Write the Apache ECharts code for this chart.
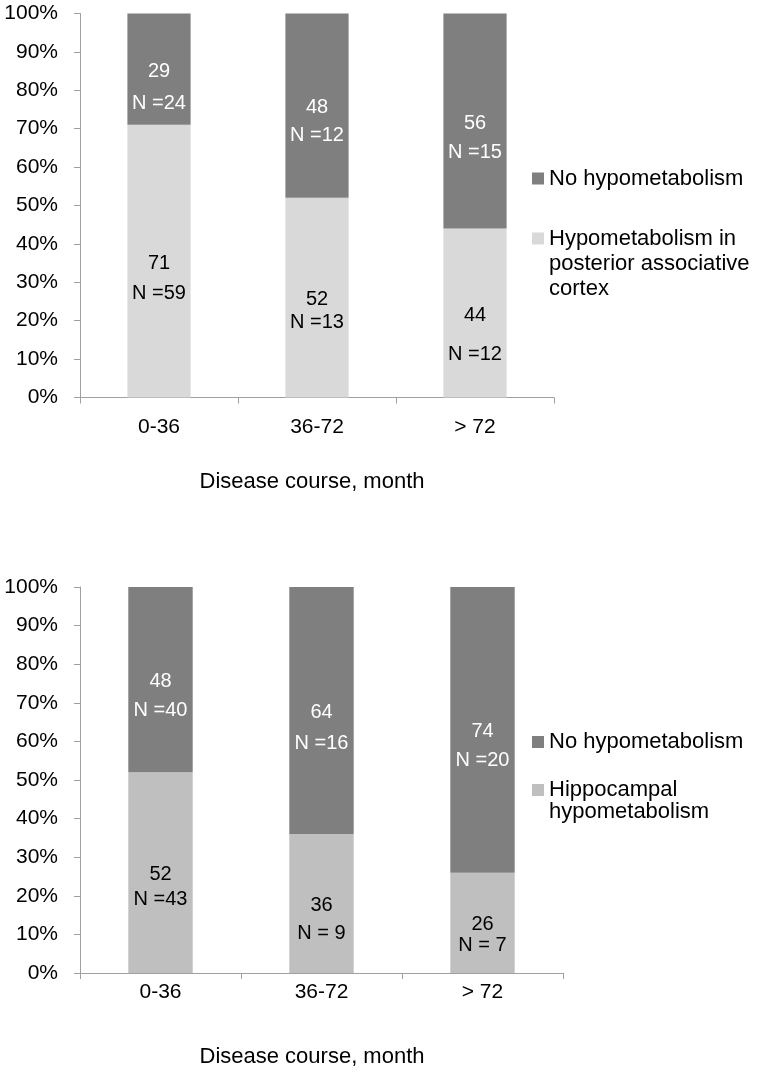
<!DOCTYPE html>
<html>
<head>
<meta charset="utf-8">
<script src="https://cdn.jsdelivr.net/npm/echarts@6/dist/echarts.min.js"></script>
<style>
html,body{margin:0;padding:0;background:#fff;}
#chart{width:760px;height:1073px;}
</style>
</head>
<body>
<div id="chart"></div>
<script>
// ---- data ----
const categories = ['0-36', '36-72', '> 72'];
const xAxisTitle = 'Disease course, month';

const topNoHypoName = 'No hypometabolism';
const topHypoName = 'Hypometabolism in posterior associative cortex';
const topNoHypoPct = [29, 48, 56];
const topNoHypoN = [24, 12, 15];
const topHypoPct = [71, 52, 44];
const topHypoN = [59, 13, 12];

const botNoHypoName = 'No hypometabolism';
const botHippoName = 'Hippocampal hypometabolism';
const botNoHypoPct = [48, 64, 74];
const botNoHypoN = [40, 16, 20];
const botHippoPct = [52, 36, 26];
const botHippoN = [43, 9, 7];

// ---- styles ----
const FONT = '"Liberation Sans", Arial, sans-serif';
const DARK = '#7f7f7f';
const LIGHT_TOP = '#d9d9d9';
const LIGHT_BOT = '#bfbfbf';
const AXIS = '#a0a0a0';
const TXT = '#000';
// vertical spacing between the two label lines (per bar)
const gapTopDark = [32, 28, 29];
const gapTopLight = [30, 23, 39];
const gapBotDark = [29, 31, 29];
const gapBotLight = [25, 28, 21];

// legend line breaks; leading blank lines keep the first text line level with the marker
const legendBreaks = {
  'Hypometabolism in posterior associative cortex': '\n\nHypometabolism in\nposterior associative\ncortex',
  'Hippocampal hypometabolism': '\nHippocampal\nhypometabolism'
};

function fmtN(n) { return n < 10 ? 'N = ' + n : 'N =' + n; }
function items(pcts, ns, gaps) {
  return pcts.map((p, i) => ({
    value: p,
    label: {
      formatter: p + '\n' + fmtN(ns[i]),
      lineHeight: gaps[i],
      offset: [0, gaps[i] / 2 + 2]
    }
  }));
}

function xAxis(idx, labelMargin, namePadRight) {
  return {
    type: 'category', gridIndex: idx, data: categories,
    axisLine: { show: true, lineStyle: { color: AXIS, width: 1 } },
    axisTick: { show: true, length: 6, lineStyle: { color: AXIS } },
    axisLabel: { color: TXT, fontSize: 21, fontFamily: FONT, margin: labelMargin },
    name: xAxisTitle, nameLocation: 'middle', nameGap: 73,
    nameTextStyle: { color: TXT, fontSize: 22, fontFamily: FONT, padding: [0, namePadRight, 0, 0] }
  };
}
function yAxis(idx) {
  return {
    type: 'value', gridIndex: idx, min: 0, max: 100, interval: 10,
    axisLine: { show: true, lineStyle: { color: AXIS, width: 1 } },
    axisTick: { show: true, length: 6, lineStyle: { color: AXIS } },
    splitLine: { show: false },
    axisLabel: { color: TXT, fontSize: 21, fontFamily: FONT, margin: 22, formatter: '{value}%' }
  };
}
function bar(name, idx, data, color, labelColor) {
  return {
    type: 'bar', name: name, stack: 's' + idx, xAxisIndex: idx, yAxisIndex: idx,
    barCategoryGap: '60%', data: data,
    itemStyle: { color: color },
    label: { show: true, position: 'inside', color: labelColor, fontSize: 20, fontFamily: FONT },
    emphasis: { disabled: true }
  };
}
function legend(name, top, lh) {
  return {
    data: [name], left: 532, top: top, orient: 'vertical', padding: 0,
    itemWidth: 12, itemHeight: 12, itemGap: 5, icon: 'rect',
    formatter: n => legendBreaks[n] || n,
    textStyle: { color: TXT, fontSize: 22, fontFamily: FONT, lineHeight: lh }
  };
}

const chart = echarts.init(document.getElementById('chart'), null, { renderer: 'canvas' });
chart.setOption({
  animation: false,
  backgroundColor: '#fff',
  grid: [
    { left: 80, top: 13.5, width: 474, height: 384 },
    { left: 80, top: 587, width: 483, height: 386 }
  ],
  xAxis: [xAxis(0, 19, 10), xAxis(1, 9, 19)],
  yAxis: [yAxis(0), yAxis(1)],
  legend: [
    legend(topNoHypoName, 166, 25),
    legend(topHypoName, 176, 25),
    legend(botNoHypoName, 731, 22),
    legend(botHippoName, 757, 22)
  ],
  series: [
    bar(topHypoName, 0, items(topHypoPct, topHypoN, gapTopLight), LIGHT_TOP, TXT),
    bar(topNoHypoName, 0, items(topNoHypoPct, topNoHypoN, gapTopDark), DARK, '#fff'),
    bar(botHippoName, 1, items(botHippoPct, botHippoN, gapBotLight), LIGHT_BOT, TXT),
    bar(botNoHypoName, 1, items(botNoHypoPct, botNoHypoN, gapBotDark), DARK, '#fff')
  ]
});
</script>
</body>
</html>
